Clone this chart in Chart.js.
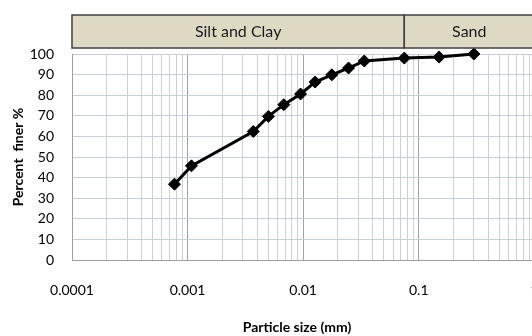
<!DOCTYPE html>
<html>
<head>
<meta charset="utf-8">
<script src="https://cdn.jsdelivr.net/npm/chart.js@4/dist/chart.umd.min.js"></script>
<style>
  html, body { margin: 0; padding: 0; background: #fff; overflow: hidden; }
  #wrap { width: 680px; height: 336px; }
</style>
</head>
<body>
<div id="wrap"><canvas id="gsdChart" width="680" height="336"></canvas></div>
<script>
// --- Data ---
const particleSize = [0.00077, 0.00108, 0.0037, 0.005, 0.0068, 0.0095, 0.0127, 0.0177, 0.0247, 0.0338, 0.075, 0.15, 0.3];
const percentFiner = [36.8, 45.7, 62.4, 69.7, 75.4, 80.6, 86.4, 89.9, 93.2, 96.6, 98.0, 98.5, 100];

// x axis decades (labelled), minor lines at 2..9 of each
const xDecades = [0.0001, 0.001, 0.01, 0.1, 1, 10];

// soil classes shown in the band over the plot
const zoneNames = ['Silt and Clay', 'Sand'];
const zoneFrom = [0.0001, 0.075];
const zoneTo = [0.075, 1];

const points = particleSize.map((s, i) => ({ x: s, y: percentFiner[i] }));

function isDecade(v) {
    const l = Math.log10(v);
    return Math.abs(l - Math.round(l)) < 1e-6;
}

// header band with the soil classes
const zoneBand = {
    id: 'zoneBand',
    afterDraw(chart) {
        const { ctx, chartArea, scales: { x } } = chart;
        ctx.save();
        for (let i = 0; i < zoneNames.length; i++) {
            const x0 = Math.max(x.getPixelForValue(zoneFrom[i]), chartArea.left);
            const x1 = x.getPixelForValue(zoneTo[i]);
            ctx.fillStyle = '#DDD9C3';
            ctx.fillRect(x0, 15, x1 - x0, 33);
            ctx.strokeStyle = '#404040';
            ctx.lineWidth = 1.5;
            ctx.strokeRect(x0, 15, x1 - x0, 33);
            ctx.fillStyle = '#1a1a1a';
            ctx.font = '16px Lato';
            ctx.textAlign = 'center';
            ctx.textBaseline = 'middle';
            ctx.fillText(zoneNames[i], (x0 + x1) / 2, 32);
        }
        // x axis title (sits left of the plot centre in the original)
        ctx.fillStyle = '#000';
        ctx.font = 'bold 14px Lato';
        ctx.textAlign = 'center';
        ctx.textBaseline = 'middle';
        ctx.fillText('Particle size (mm)', 297, 327);
        ctx.restore();
    }
};

Chart.defaults.font.family = 'Lato';
Chart.defaults.color = '#000';

new Chart(document.getElementById('gsdChart'), {
    type: 'scatter',
    data: {
        datasets: [{
            data: points,
            showLine: true,
            borderColor: '#000',
            borderWidth: 3,
            backgroundColor: '#000',
            pointStyle: 'rectRot',
            pointRadius: 6,
            pointBorderWidth: 1,
            clip: 12
        }]
    },
    options: {
        responsive: false,
        animation: false,
        layout: { padding: { top: 54, left: 0, right: 12, bottom: 0 } },
        plugins: {
            legend: { display: false },
            tooltip: { enabled: false }
        },
        scales: {
            x: {
                type: 'logarithmic',
                min: xDecades[0],
                max: xDecades[xDecades.length - 1],
                afterBuildTicks: (scale) => {
                    const t = [];
                    xDecades.forEach((d, i) => {
                        if (i === xDecades.length - 1) { t.push({ value: d }); return; }
                        for (let k = 1; k <= 9; k++) t.push({ value: d * k });
                    });
                    scale.ticks = t;
                },
                afterFit: (scale) => { scale.height = 76; },
                ticks: {
                    autoSkip: false,
                    maxRotation: 0,
                    padding: 22,
                    font: { size: 14 },
                    callback: (v) => isDecade(v) ? String(Number(v.toPrecision(6))) : ''
                },
                grid: {
                    drawTicks: false,
                    color: (c) => (c.tick && isDecade(c.tick.value)) ? '#A3A3A3' : '#CFCFCF',
                    lineWidth: 1
                },
                border: { color: '#A0A0A0', width: 1 }
            },
            y: {
                min: 0,
                max: 100,
                afterFit: (scale) => { scale.width = 72; },
                ticks: {
                    stepSize: 10,
                    padding: 18,
                    font: { size: 14 }
                },
                grid: {
                    drawTicks: false,
                    color: '#C3CFDF',
                    lineWidth: 1
                },
                border: { color: '#A0A0A0', width: 1 },
                title: {
                    display: true,
                    text: 'Percent  finer %',
                    font: { size: 14, weight: 'bold' },
                    padding: { top: 10, bottom: 0 }
                }
            }
        }
    },
    plugins: [zoneBand]
});
</script>
</body>
</html>
